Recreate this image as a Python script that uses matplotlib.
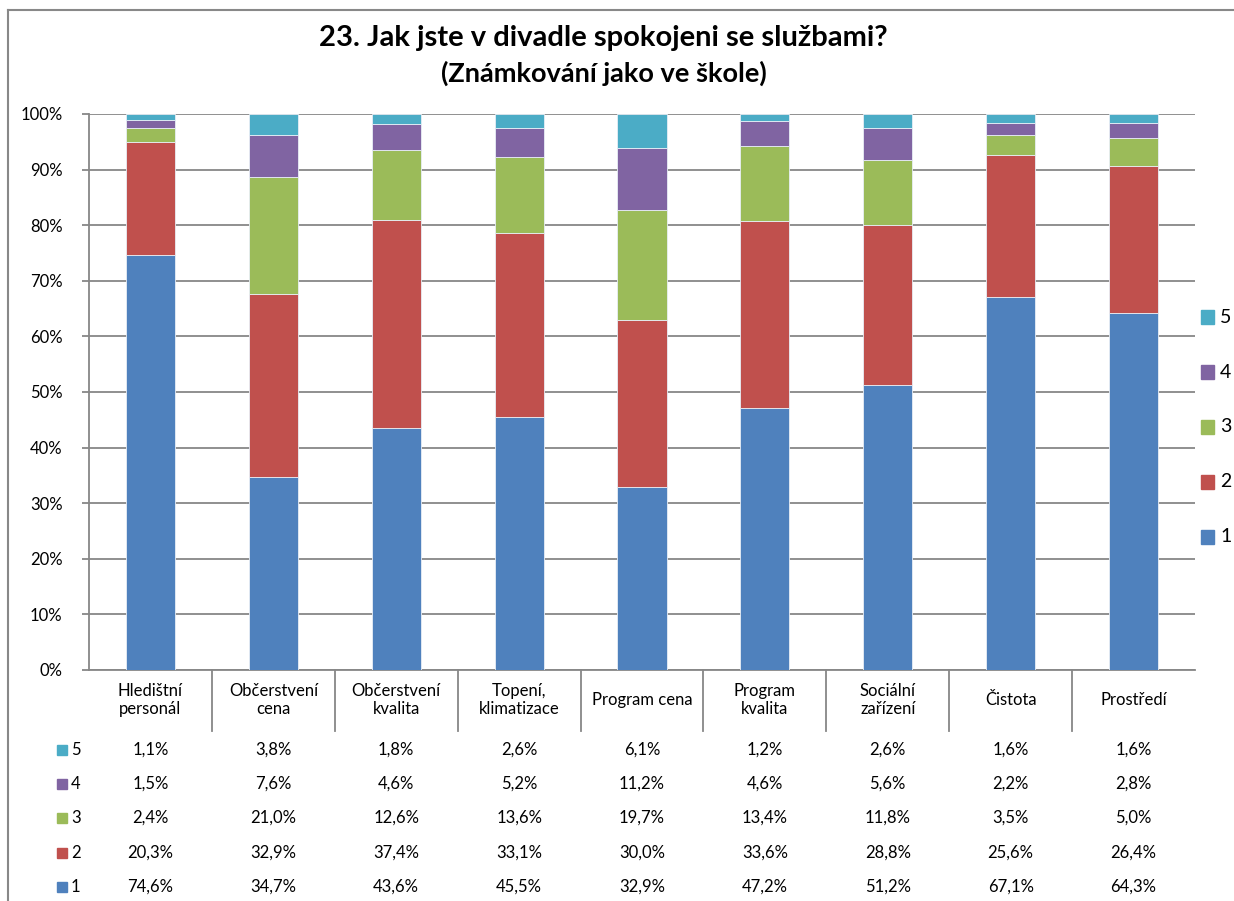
import numpy as np
import matplotlib.pyplot as plt
from matplotlib.lines import Line2D
from matplotlib.patches import Rectangle

plt.rcParams['font.family'] = ['Lato', 'DejaVu Sans']

categories = ['Hledištní\npersonál', 'Občerstvení\ncena', 'Občerstvení\nkvalita',
              'Topení,\nklimatizace', 'Program cena', 'Program\nkvalita',
              'Sociální\nzařízení', 'Čistota', 'Prostředí']
series = ['1', '2', '3', '4', '5']
v1 = [74.6, 34.7, 43.6, 45.5, 32.9, 47.2, 51.2, 67.1, 64.3]
v2 = [20.3, 32.9, 37.4, 33.1, 30.0, 33.6, 28.8, 25.6, 26.4]
v3 = [2.4, 21.0, 12.6, 13.6, 19.7, 13.4, 11.8, 3.5, 5.0]
v4 = [1.5, 7.6, 4.6, 5.2, 11.2, 4.6, 5.6, 2.2, 2.8]
v5 = [1.1, 3.8, 1.8, 2.6, 6.1, 1.2, 2.6, 1.6, 1.6]
colors = ['#4F81BD', '#C0504D', '#9BBB59', '#8064A2', '#4BACC6']

W, H = 1234, 901
fig = plt.figure(figsize=(W / 100, H / 100), dpi=100)

def fx(px):
    return px / W

def fy(py):
    return 1 - py / H

# outer chart border
fig.add_artist(Line2D([fx(8), fx(8)], [fy(10), 0], color='#888888', lw=1.5))
fig.add_artist(Line2D([fx(8), 1], [fy(10), fy(10)], color='#888888', lw=1.5))

left, right, top, bottom = 89, 1195, 114, 670
ax = fig.add_axes([fx(left), fy(bottom), fx(right - left), fy(top) - fy(bottom)])

data = np.array([v1, v2, v3, v4, v5])
shares = data / data.sum(axis=0)
x = np.arange(len(categories))
base = np.zeros(len(categories))
for i in range(len(series)):
    ax.bar(x, shares[i], 0.4, bottom=base, color=colors[i],
           edgecolor='#e8eef6', linewidth=0.6, zorder=3)
    base += shares[i]

ax.set_xlim(-0.5, len(categories) - 0.5)
ax.set_ylim(0, 1)
ax.set_yticks(np.linspace(0, 1, 11))
ax.set_yticklabels([f'{int(round(t * 100))}%' for t in np.linspace(0, 1, 11)], fontsize=12)
ax.set_xticks([])
ax.yaxis.grid(True, color='#878787', lw=1.3, zorder=0)
ax.tick_params(axis='y', length=5, color='#878787', width=1.3, pad=14)
for s in ['top', 'right']:
    ax.spines[s].set_visible(False)
ax.spines['left'].set_color('#878787')
ax.spines['bottom'].set_color('#878787')
ax.spines['left'].set_linewidth(1.3)
ax.spines['bottom'].set_linewidth(1.3)

# category header and dividers
cw = (right - left) / len(categories)
for k in range(1, len(categories)):
    xp = left + k * cw
    fig.add_artist(Line2D([fx(xp), fx(xp)], [fy(670), fy(731)], color='#878787', lw=1.3))
for k, c in enumerate(categories):
    fig.text(fx(left + (k + 0.5) * cw), fy(700), c, ha='center', va='center',
             fontsize=12, linespacing=1.2)

# data table rows
row_y = [750, 784, 818, 853, 887]
fmt = lambda v: f'{v:.1f}%'.replace('.', ',')
for r, i in enumerate(range(len(series) - 1, -1, -1)):
    yy = row_y[r]
    fig.add_artist(Rectangle((fx(57), fy(yy + 5)), fx(10), fy(yy - 5) - fy(yy + 5),
                             color=colors[i], transform=fig.transFigure))
    fig.text(fx(71), fy(yy), series[i], ha='left', va='center', fontsize=12)
    for k in range(len(categories)):
        fig.text(fx(left + (k + 0.5) * cw), fy(yy), fmt(data[i][k]),
                 ha='center', va='center', fontsize=12)

# legend on the right
leg_y = [317, 372, 427, 482, 537]
for r, i in enumerate(range(len(series) - 1, -1, -1)):
    yy = leg_y[r]
    fig.add_artist(Rectangle((fx(1201), fy(yy + 7)), fx(13), fy(yy - 7) - fy(yy + 7),
                             color=colors[i], transform=fig.transFigure))
    fig.text(fx(1220), fy(yy), series[i], ha='left', va='center', fontsize=14)

fig.text(fx(603), fy(38), '23. Jak jste v divadle spokojeni se službami?',
         ha='center', va='center', fontsize=21, fontweight='bold')
fig.text(fx(604), fy(73), '(Známkování jako ve škole)',
         ha='center', va='center', fontsize=19.5, fontweight='bold')

fig.savefig('out.png', dpi=100)
